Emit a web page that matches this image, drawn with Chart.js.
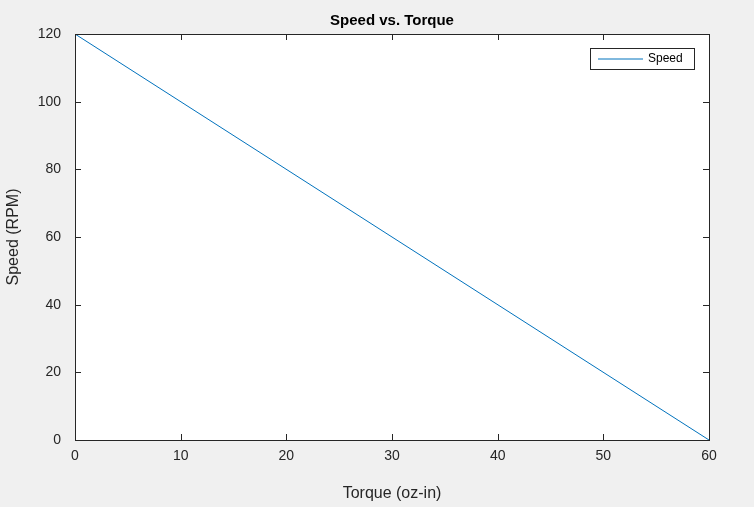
<!DOCTYPE html>
<html><head><meta charset="utf-8">
<script src="https://cdn.jsdelivr.net/npm/chart.js@4"></script>
<style>html,body{margin:0;background:#f0f0f0}#wrap{width:754px;height:507px}</style>
</head><body><div id="wrap"><canvas id="c"></canvas></div>
<script>
const torque = [0, 60];
const speed = [120, 0];
const xTicks = [0, 10, 20, 30, 40, 50, 60];
const yTicks = [0, 20, 40, 60, 80, 100, 120];
const FONT = 'Helvetica, "Liberation Sans", Arial, sans-serif';

const frame = {
  id: 'frame',
  beforeDraw(chart) {
    const {ctx, chartArea: a} = chart;
    ctx.save();
    ctx.fillStyle = '#f0f0f0';
    ctx.fillRect(0, 0, chart.width, chart.height);
    ctx.fillStyle = '#fff';
    ctx.fillRect(a.left, a.top, a.right - a.left, a.bottom - a.top);
    ctx.restore();
  },
  afterDraw(chart) {
    const {ctx, chartArea: a, scales} = chart;
    ctx.save();
    ctx.strokeStyle = '#262626';
    ctx.lineWidth = 1;
    ctx.strokeRect(a.left + 0.5, a.top + 0.5, a.right - a.left, a.bottom - a.top);
    ctx.beginPath();
    xTicks.forEach(v => {
      const x = Math.round(scales.x.getPixelForValue(v)) + 0.5;
      ctx.moveTo(x, a.bottom); ctx.lineTo(x, a.bottom - 6);
      ctx.moveTo(x, a.top); ctx.lineTo(x, a.top + 6);
    });
    yTicks.forEach(v => {
      const y = Math.round(scales.y.getPixelForValue(v)) + 0.5;
      ctx.moveTo(a.left, y); ctx.lineTo(a.left + 6, y);
      ctx.moveTo(a.right, y); ctx.lineTo(a.right - 6, y);
    });
    ctx.stroke();
    // title
    ctx.fillStyle = '#000';
    ctx.font = 'bold 15px ' + FONT;
    ctx.textAlign = 'center';
    ctx.textBaseline = 'middle';
    ctx.fillText('Speed vs. Torque', (a.left + a.right) / 2, 21);
    // legend
    const lx = 590, ly = 48, lw = 104, lh = 21;
    ctx.fillStyle = '#fff';
    ctx.fillRect(lx, ly, lw, lh);
    ctx.strokeStyle = '#262626';
    ctx.strokeRect(lx + 0.5, ly + 0.5, lw, lh);
    ctx.strokeStyle = '#0072bd';
    ctx.beginPath();
    ctx.moveTo(lx + 8, ly + 11); ctx.lineTo(lx + 53, ly + 11);
    ctx.stroke();
    ctx.fillStyle = '#000';
    ctx.font = '12px ' + FONT;
    ctx.textAlign = 'left';
    ctx.fillText('Speed', lx + 58, ly + 11);
    ctx.restore();
  }
};

new Chart(document.getElementById('c'), {
  type: 'scatter',
  data: {
    datasets: [{
      label: 'Speed',
      data: torque.map((t, i) => ({x: t, y: speed[i]})),
      showLine: true,
      borderColor: '#0072bd',
      borderWidth: 1,
      pointRadius: 0
    }]
  },
  options: {
    responsive: true,
    maintainAspectRatio: false,
    animation: false,
    layout: {padding: {left: 0, top: 34, right: 45, bottom: 0}},
    plugins: {legend: {display: false}, tooltip: {enabled: false}},
    scales: {
      x: {
        type: 'linear', min: 0, max: 60,
        afterBuildTicks: s => { s.ticks = xTicks.map(v => ({value: v})); },
        afterFit: s => { s.height = 67; },
        grid: {display: false},
        border: {display: false},
        ticks: {color: '#262626', font: {family: FONT, size: 14}, padding: 0, maxRotation: 0},
        title: {display: true, text: 'Torque (oz-in)', color: '#262626', font: {family: FONT, size: 16}, padding: {top: 2}}
      },
      y: {
        type: 'linear', min: 0, max: 120,
        afterBuildTicks: s => { s.ticks = yTicks.map(v => ({value: v})); },
        afterFit: s => { s.width = 75; },
        grid: {display: false},
        border: {display: false},
        ticks: {color: '#262626', font: {family: FONT, size: 14}, padding: 6},
        title: {display: true, text: 'Speed (RPM)', color: '#262626', font: {family: FONT, size: 16}, padding: {bottom: 0}}
      }
    }
  },
  plugins: [frame]
});
</script></body></html>
